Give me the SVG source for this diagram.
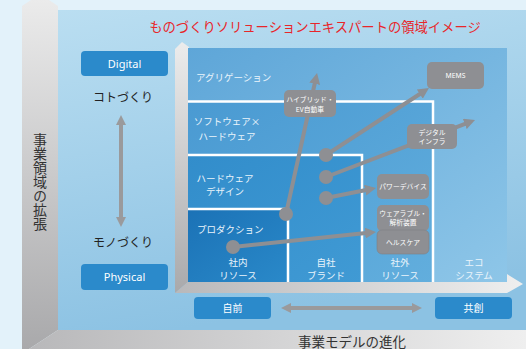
<svg xmlns="http://www.w3.org/2000/svg" width="526" height="349" viewBox="0 0 526 349">
<defs>
<linearGradient id="gPanel" x1="0" y1="0" x2="0.25" y2="1">
<stop offset="0" stop-color="#badef1"/><stop offset="1" stop-color="#8cc2e3"/>
</linearGradient>
<linearGradient id="g1" x1="0" y1="0" x2="1" y2="1">
<stop offset="0" stop-color="#5ea6d8"/><stop offset="1" stop-color="#8ec6e8"/>
</linearGradient>
<linearGradient id="g2" x1="0" y1="0" x2="1" y2="1">
<stop offset="0" stop-color="#4a9ad2"/><stop offset="1" stop-color="#62aedd"/>
</linearGradient>
<linearGradient id="g3" x1="0" y1="0" x2="1" y2="1">
<stop offset="0" stop-color="#328dcb"/><stop offset="1" stop-color="#409ad4"/>
</linearGradient>
<linearGradient id="g4" x1="0" y1="0" x2="1" y2="1">
<stop offset="0" stop-color="#1b72b6"/><stop offset="1" stop-color="#2a89c9"/>
</linearGradient>
<linearGradient id="gBarV" x1="0" y1="0" x2="0" y2="1">
<stop offset="0" stop-color="#ececec"/><stop offset="1" stop-color="#a9a9ab"/>
</linearGradient>
<linearGradient id="gBarH" x1="0" y1="0" x2="1" y2="0">
<stop offset="0" stop-color="#b8b8ba"/><stop offset="1" stop-color="#efefef"/>
</linearGradient>
<marker id="ah" markerUnits="userSpaceOnUse" markerWidth="11" markerHeight="11" refX="1" refY="5.5" orient="auto">
<path d="M0,0 L11,5.5 L0,11 z" fill="#8e8f93"/>
</marker>
<marker id="ahg" markerUnits="userSpaceOnUse" markerWidth="10" markerHeight="10" refX="1" refY="5" orient="auto-start-reverse">
<path d="M0,0 L10,5 L0,10 z" fill="#9a9a9c"/>
</marker>
<style>
.jp{font-family:"Noto Sans CJK JP","Noto Sans",sans-serif;}
.lbl{font-size:9.5px;fill:#eaf4fb;}
.col{font-size:9.5px;fill:#eaf4fb;text-anchor:middle;}
.box{fill:#8e8f93;}
.bt{font-size:6.8px;fill:#ffffff;text-anchor:middle;}
.btn{fill:#2b8acb;}
.btt{font-size:10px;fill:#ffffff;text-anchor:middle;}
.conn{stroke:#8e8f93;stroke-width:4;fill:none;marker-end:url(#ah);}
.dot{fill:#8e8f93;}
.wl{stroke:#ffffff;stroke-width:2.5;fill:none;}
</style>
</defs>

<!-- background -->
<rect x="0" y="0" width="526" height="349" fill="#e3f2fa"/>
<rect x="58" y="10" width="468" height="320" fill="url(#gPanel)"/>

<!-- outer 3D axes -->
<g id="axis-outer">
<polygon points="22,6 40,-6 58,6 58,330 29,349 22,349" fill="url(#gBarV)"/>
<polygon points="58,330 526,330 526,349 29,349" fill="url(#gBarH)"/>
<text class="jp" x="40" y="133" font-size="14" fill="#333333" writing-mode="vertical-rl">事業領域の拡張</text>
<text class="jp" x="352" y="346.5" font-size="13.5" fill="#333333" text-anchor="middle">事業モデルの進化</text>
</g>

<!-- title -->
<text id="title" class="jp" x="315" y="31.5" font-size="13.3" fill="#e8262a" text-anchor="middle">ものづくりソリューションエキスパートの領域イメージ</text>

<!-- inner axes -->
<g id="axis-inner">
<polygon points="175,49 182,42 189,47 188,282 175,293" fill="url(#gBarV)"/>
<polygon points="188,282 507,282 507,274 523,284 507,293 175,293" fill="url(#gBarH)"/>
</g>

<!-- layers -->
<g id="layers">
<rect x="188" y="48" width="319" height="234" fill="url(#g1)"/>
<rect x="188" y="102" width="245" height="180" fill="url(#g2)"/>
<rect x="188" y="155" width="174" height="127" fill="url(#g3)"/>
<rect x="188" y="209" width="100" height="73" fill="url(#g4)"/>
<path class="wl" d="M188,101.5 H433 V282"/>
<path class="wl" d="M188,155 H362 V282"/>
<path class="wl" d="M188,209 H288 V282"/>
</g>

<g id="row-labels" class="jp">
<text class="lbl" x="196" y="80.5">アグリゲーション</text>
<text class="lbl" x="227" y="125" text-anchor="middle">ソフトウェア×</text>
<text class="lbl" x="227" y="139.5" text-anchor="middle">ハードウェア</text>
<text class="lbl" x="225" y="181.5" text-anchor="middle">ハードウェア</text>
<text class="lbl" x="225" y="195" text-anchor="middle">デザイン</text>
<text class="lbl" x="197" y="232.5">プロダクション</text>
</g>

<g id="col-labels" class="jp">
<text class="col" x="238" y="265.5">社内</text>
<text class="col" x="238" y="279">リソース</text>
<text class="col" x="326" y="265.5">自社</text>
<text class="col" x="326" y="279">ブランド</text>
<text class="col" x="400" y="265.5">社外</text>
<text class="col" x="400" y="279">リソース</text>
<text class="col" x="474" y="265.5">エコ</text>
<text class="col" x="474" y="279">システム</text>
</g>

<!-- connectors -->
<g id="connectors">
<line class="conn" x1="286" y1="214" x2="314.9" y2="82.8"/>
<line class="conn" x1="326" y1="155" x2="420.6" y2="93.5"/>
<line class="conn" x1="326" y1="177" x2="465.7" y2="123.6"/>
<line class="conn" x1="326" y1="198" x2="366.2" y2="190"/>
<line class="conn" x1="233" y1="247" x2="366.1" y2="233"/>
<line x1="121" y1="124" x2="121" y2="218" stroke="#9a9a9c" stroke-width="4" marker-start="url(#ahg)" marker-end="url(#ahg)"/>
<line x1="290" y1="308" x2="413" y2="308" stroke="#9a9a9c" stroke-width="4" marker-start="url(#ahg)" marker-end="url(#ahg)"/>
</g>

<g id="dots">
<circle class="dot" cx="233" cy="247" r="7"/>
<circle class="dot" cx="286" cy="214" r="7"/>
<circle class="dot" cx="326" cy="155" r="7"/>
<circle class="dot" cx="326" cy="177" r="7"/>
<circle class="dot" cx="326" cy="198" r="7"/>
</g>

<g id="node-hybrid" class="jp">
<rect class="box" x="284" y="90" width="52" height="27" rx="5"/>
<text class="bt" x="310" y="102">ハイブリッド・</text>
<text class="bt" x="310" y="111.5">EV自動車</text>
</g>
<g id="node-mems" class="jp">
<rect class="box" x="427" y="62" width="57" height="27" rx="5"/>
<text class="bt" x="455.5" y="78" font-family="Noto Sans, sans-serif">MEMS</text>
</g>
<g id="node-infra" class="jp">
<rect class="box" x="407" y="124" width="50" height="25" rx="5"/>
<text class="bt" x="432" y="134.5">デジタル</text>
<text class="bt" x="432" y="144">インフラ</text>
</g>
<g id="node-power" class="jp">
<rect class="box" x="377" y="174" width="52" height="25" rx="5"/>
<text class="bt" x="403" y="189">パワーデバイス</text>
</g>
<g id="node-wearable" class="jp">
<rect class="box" x="377" y="205" width="52" height="26" rx="5"/>
<text class="bt" x="403" y="215.5">ウェアラブル・</text>
<text class="bt" x="403" y="225">解析装置</text>
</g>
<g id="node-health" class="jp">
<rect class="box" x="377" y="230" width="52" height="24" rx="5" stroke="#7f8084" stroke-width="0.6"/>
<text class="bt" x="403" y="244.5">ヘルスケア</text>
</g>

<!-- left axis labels -->
<g id="btn-digital">
<rect class="btn" x="81" y="51" width="87" height="25" rx="4"/>
<text x="124.5" y="67.5" font-family="Noto Sans, sans-serif" font-size="11" fill="#ffffff" text-anchor="middle">Digital</text>
</g>
<g id="label-koto"><text class="jp" x="123" y="101.5" font-size="12" fill="#222222" text-anchor="middle">コトづくり</text></g>
<g id="label-mono"><text class="jp" x="123" y="246.5" font-size="12" fill="#222222" text-anchor="middle">モノづくり</text></g>
<g id="btn-physical">
<rect class="btn" x="81" y="264" width="87" height="26" rx="4"/>
<text x="124.5" y="281" font-family="Noto Sans, sans-serif" font-size="11" fill="#ffffff" text-anchor="middle">Physical</text>
</g>

<!-- bottom axis labels -->
<g id="btn-jimae" class="jp">
<rect class="btn" x="194" y="297" width="77" height="22" rx="4"/>
<text class="btt" x="232.5" y="311.5">自前</text>
</g>
<g id="btn-kyoso" class="jp">
<rect class="btn" x="435" y="297" width="77" height="22" rx="4"/>
<text class="btt" x="473.5" y="311.5">共創</text>
</g>
</svg>
